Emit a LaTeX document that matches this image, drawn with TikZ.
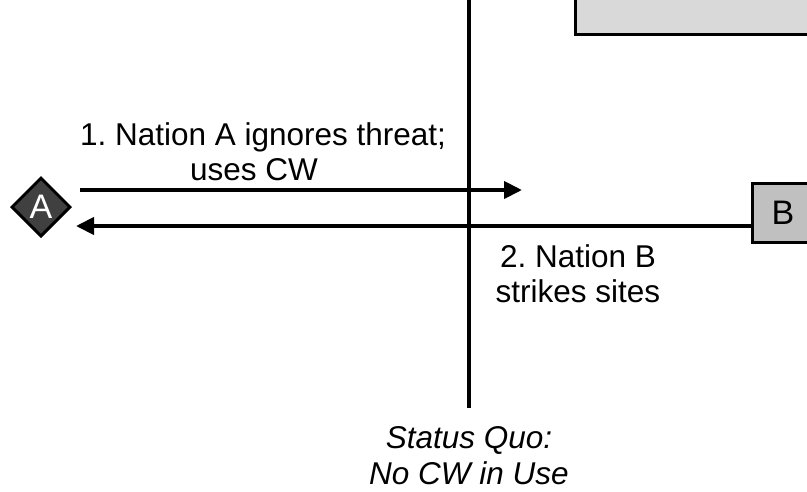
\documentclass[tikz,border=0pt]{standalone}
\usepackage{fontspec}
\setmainfont{Liberation Sans}
\usetikzlibrary{arrows.meta,shapes.geometric}
\frenchspacing
\definecolor{darkfill}{HTML}{404040}
\definecolor{boxgray}{HTML}{C0C0C0}
\definecolor{lightgray}{HTML}{D9D9D9}
\newcommand{\lblfont}{\fontsize{31.5}{35}\selectfont}
\newcommand{\playerfont}{\fontsize{34}{36}\selectfont}
\tikzset{
  x=1pt, y=1pt,
  lbl/.style={font=\lblfont, anchor=base, inner sep=0pt},
  flow/.style={line width=4pt, -{Triangle[length=18pt, width=17pt]}},
  axis/.style={line width=4pt},
  player/.style={draw=black, line width=3pt, inner sep=0pt},
}
\begin{document}
\begin{tikzpicture}
\useasboundingbox (0,0) rectangle (807,-491);
\begin{scope}
\clip (0,0) rectangle (807,-491);
% partly visible box at the top right
\node[player, fill=lightgray, rectangle, anchor=south west, minimum width=300pt, minimum height=80pt] (top) at (574,-36) {};
% vertical status-quo axis
\coordinate (axtop) at (469,5);
\coordinate (axbot) at (469,-408);
\draw[axis] (axtop) -- (axbot);
% players
\node[player, fill=darkfill, diamond, minimum width=59pt, minimum height=59pt] (A) at (41,-207) {};
\node[text=white, inner sep=0pt] at (A.center) {\playerfont A};
\node[player, fill=boxgray, rectangle, minimum width=62pt, minimum height=59pt] (B) at (783,-212.5) {};
\node[inner sep=0pt] at (B.center) {\playerfont B};
% moves
\coordinate (m1s) at (80,-190);
\coordinate (m1e) at (522,-190);
\draw[flow] (m1s) -- (m1e);
\coordinate (m2s) at (B.west |- 0,-226);
\draw[flow] (m2s) -- (76,-226);
\end{scope}
% labels
\node[lbl] (l1a) at (263,-145) {1. Nation A ignores threat;};
\node[lbl] (l1b) at (254,-180) {uses CW};
\node[lbl] (l2a) at (578,-267) {2. Nation B};
\node[lbl] (l2b) at (578,-302) {strikes sites};
\node[lbl, font=\lblfont\itshape] (sq1) at (469,-448) {Status Quo:};
\node[lbl, font=\lblfont\itshape] (sq2) at (469,-484) {No CW in Use};
\end{tikzpicture}
\end{document}
